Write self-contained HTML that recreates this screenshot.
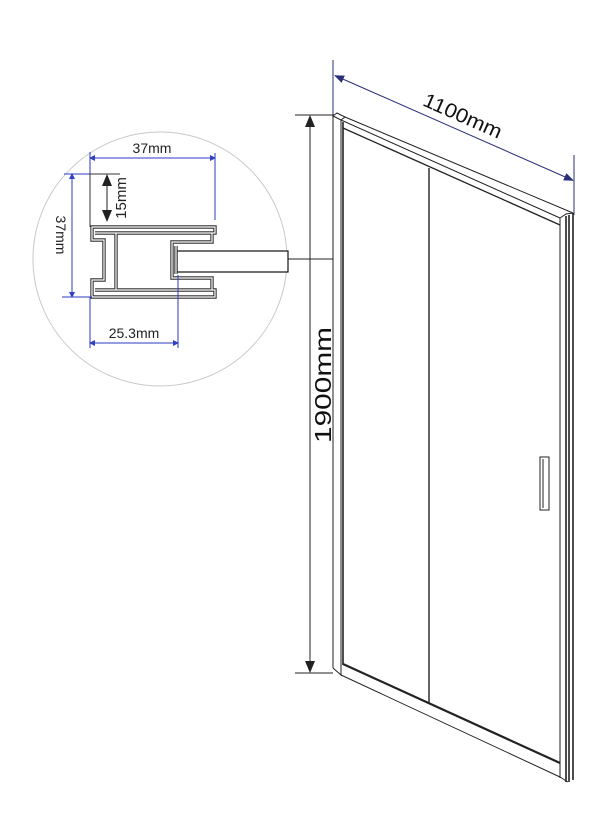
<!DOCTYPE html>
<html><head><meta charset="utf-8"><style>
html,body{margin:0;padding:0;background:#fff;}
svg{display:block;}
text{font-family:"Liberation Sans",sans-serif;}
</style></head><body>
<svg width="613" height="820" viewBox="0 0 613 820" xmlns="http://www.w3.org/2000/svg">
<defs>
<marker id="ab" markerWidth="10" markerHeight="8" refX="9" refY="4" orient="auto" markerUnits="userSpaceOnUse"><path d="M0,0 L10,4 L0,8 Z" fill="#2a2f7a"/></marker>
<marker id="ak" markerWidth="12" markerHeight="10" refX="11" refY="5" orient="auto" markerUnits="userSpaceOnUse"><path d="M0,0 L12,5 L0,10 Z" fill="#222"/></marker>
<marker id="au" markerWidth="6" markerHeight="6" refX="5" refY="3" orient="auto" markerUnits="userSpaceOnUse"><path d="M0,0 L6,3 L0,6 Z" fill="#3040c0"/></marker>
</defs>
<circle cx="160" cy="259" r="127" fill="none" stroke="#c8c8c8" stroke-width="1"/>

<line x1="333" y1="60" x2="333" y2="116" stroke="#2a2f7a" stroke-width="1"/>
<line x1="574" y1="155" x2="574" y2="215" stroke="#2a2f7a" stroke-width="1"/>
<line x1="345" y1="80" x2="563" y2="176" stroke="#2a2f7a" stroke-width="1"/>
<line x1="345" y1="80" x2="335" y2="75.6" stroke="#2a2f7a" marker-end="url(#ab)"/>
<line x1="563" y1="176" x2="573" y2="180.4" stroke="#2a2f7a" marker-end="url(#ab)"/>
<text x="460" y="122" font-size="20" text-anchor="middle" textLength="84" lengthAdjust="spacingAndGlyphs" transform="rotate(23.8 460 122)" fill="#111">1100mm</text>

<line x1="295" y1="115" x2="334" y2="115" stroke="#222" stroke-width="1"/>
<line x1="295" y1="673" x2="333" y2="673" stroke="#222" stroke-width="1"/>
<line x1="310" y1="128" x2="310" y2="660" stroke="#222" stroke-width="1"/>
<line x1="310" y1="128" x2="310" y2="116" stroke="#222" marker-end="url(#ak)"/>
<line x1="310" y1="660" x2="310" y2="672" stroke="#222" marker-end="url(#ak)"/>
<text x="331" y="385" font-size="23" text-anchor="middle" textLength="116" lengthAdjust="spacingAndGlyphs" transform="rotate(-90 331 385)" fill="#111">1900mm</text>

<g stroke="#222" fill="none" stroke-width="1">
<line x1="333" y1="116" x2="333" y2="668"/>
<line x1="341" y1="120" x2="341" y2="668"/>
<line x1="343" y1="122" x2="343" y2="665" stroke-width="1.6"/>
<path d="M333,668 L341,675 L341,668"/>
<path d="M333,116 L337,113 L345,117 L341,120 Z"/>
<line x1="345" y1="117" x2="573" y2="213"/>
<line x1="341" y1="120" x2="560" y2="218"/>
<line x1="343" y1="128" x2="560" y2="225" stroke-width="1.3"/>
<line x1="560" y1="218" x2="560" y2="778"/>
<line x1="566" y1="216" x2="566" y2="782" stroke-width="1.6"/>
<line x1="569" y1="215" x2="569" y2="782" stroke-width="1.6"/>
<line x1="573" y1="213" x2="573" y2="780" stroke-width="1.6"/>
<path d="M560,218 L566,214 L573,213"/>
<line x1="429" y1="168" x2="429" y2="703" stroke-width="1.4"/>
<line x1="343" y1="664" x2="560" y2="763" stroke-width="2.2"/>
<line x1="341" y1="675" x2="560" y2="777"/>
<line x1="560" y1="777" x2="568" y2="782"/>
<rect x="540" y="457" width="9" height="53" stroke-width="1"/>
<line x1="543" y1="459" x2="543" y2="508"/>
</g>

<line x1="287" y1="259" x2="333" y2="259" stroke="#222" stroke-width="1"/>
<rect x="177" y="251" width="111" height="21" fill="#fff" stroke="#111" stroke-width="1.2"/>

<g fill="none" stroke-linejoin="miter">
<path d="M92,227 L215,227 L215,233 L212,233 L212,242 L172,242 L172,278 L212,278 L212,290 L215,290 L215,297 L92,297 L92,280 L104,280 L104,240 L92,240 Z M95,233 L212,233 M95,290 L212,290 M116,233 L116,290 M176,246 L176,274" stroke="#333" stroke-width="3.4"/>
<path d="M92,227 L215,227 L215,233 L212,233 L212,242 L172,242 L172,278 L212,278 L212,290 L215,290 L215,297 L92,297 L92,280 L104,280 L104,240 L92,240 Z M95,233 L212,233 M95,290 L212,290 M116,233 L116,290 M176,246 L176,274" stroke="#fff" stroke-width="1.2"/>
</g>
<line x1="90" y1="174" x2="90" y2="227" stroke="#333" stroke-width="1"/>
<line x1="90" y1="174" x2="120" y2="174" stroke="#333" stroke-width="1"/>

<g stroke="#2b3bc0" stroke-width="1" fill="none">
<line x1="90" y1="152" x2="90" y2="174"/>
<line x1="215" y1="153" x2="215" y2="220"/>
<line x1="96" y1="158" x2="90" y2="158" marker-end="url(#au)"/>
<line x1="96" y1="158" x2="209" y2="158"/>
<line x1="209" y1="158" x2="215" y2="158" marker-end="url(#au)"/>
<line x1="64" y1="174" x2="90" y2="174"/>
<line x1="62" y1="297" x2="92" y2="297"/>
<line x1="72" y1="180" x2="72" y2="291"/>
<line x1="72" y1="180" x2="72" y2="174" marker-end="url(#au)"/>
<line x1="72" y1="291" x2="72" y2="297" marker-end="url(#au)"/>
<line x1="90" y1="297" x2="90" y2="348"/>
<line x1="178" y1="275" x2="178" y2="348"/>
<line x1="96" y1="343" x2="172" y2="343"/>
<line x1="96" y1="343" x2="90" y2="343" marker-end="url(#au)"/>
<line x1="172" y1="343" x2="178" y2="343" marker-end="url(#au)"/>
</g>
<line x1="107" y1="182" x2="107" y2="214" stroke="#222" stroke-width="1"/>
<path d="M102,186 L107,174 L112,186 Z M102,210 L107,222 L112,210 Z" fill="#222"/>

<text x="152" y="153" font-size="14" text-anchor="middle" fill="#222">37mm</text>
<text x="134" y="338" font-size="14" text-anchor="middle" fill="#222">25.3mm</text>
<text x="56" y="235" font-size="14" text-anchor="middle" transform="rotate(90 56 235)" fill="#222">37mm</text>
<text x="126" y="198" font-size="15" text-anchor="middle" transform="rotate(-90 126 198)" fill="#222">15mm</text>
</svg>
</body></html>
